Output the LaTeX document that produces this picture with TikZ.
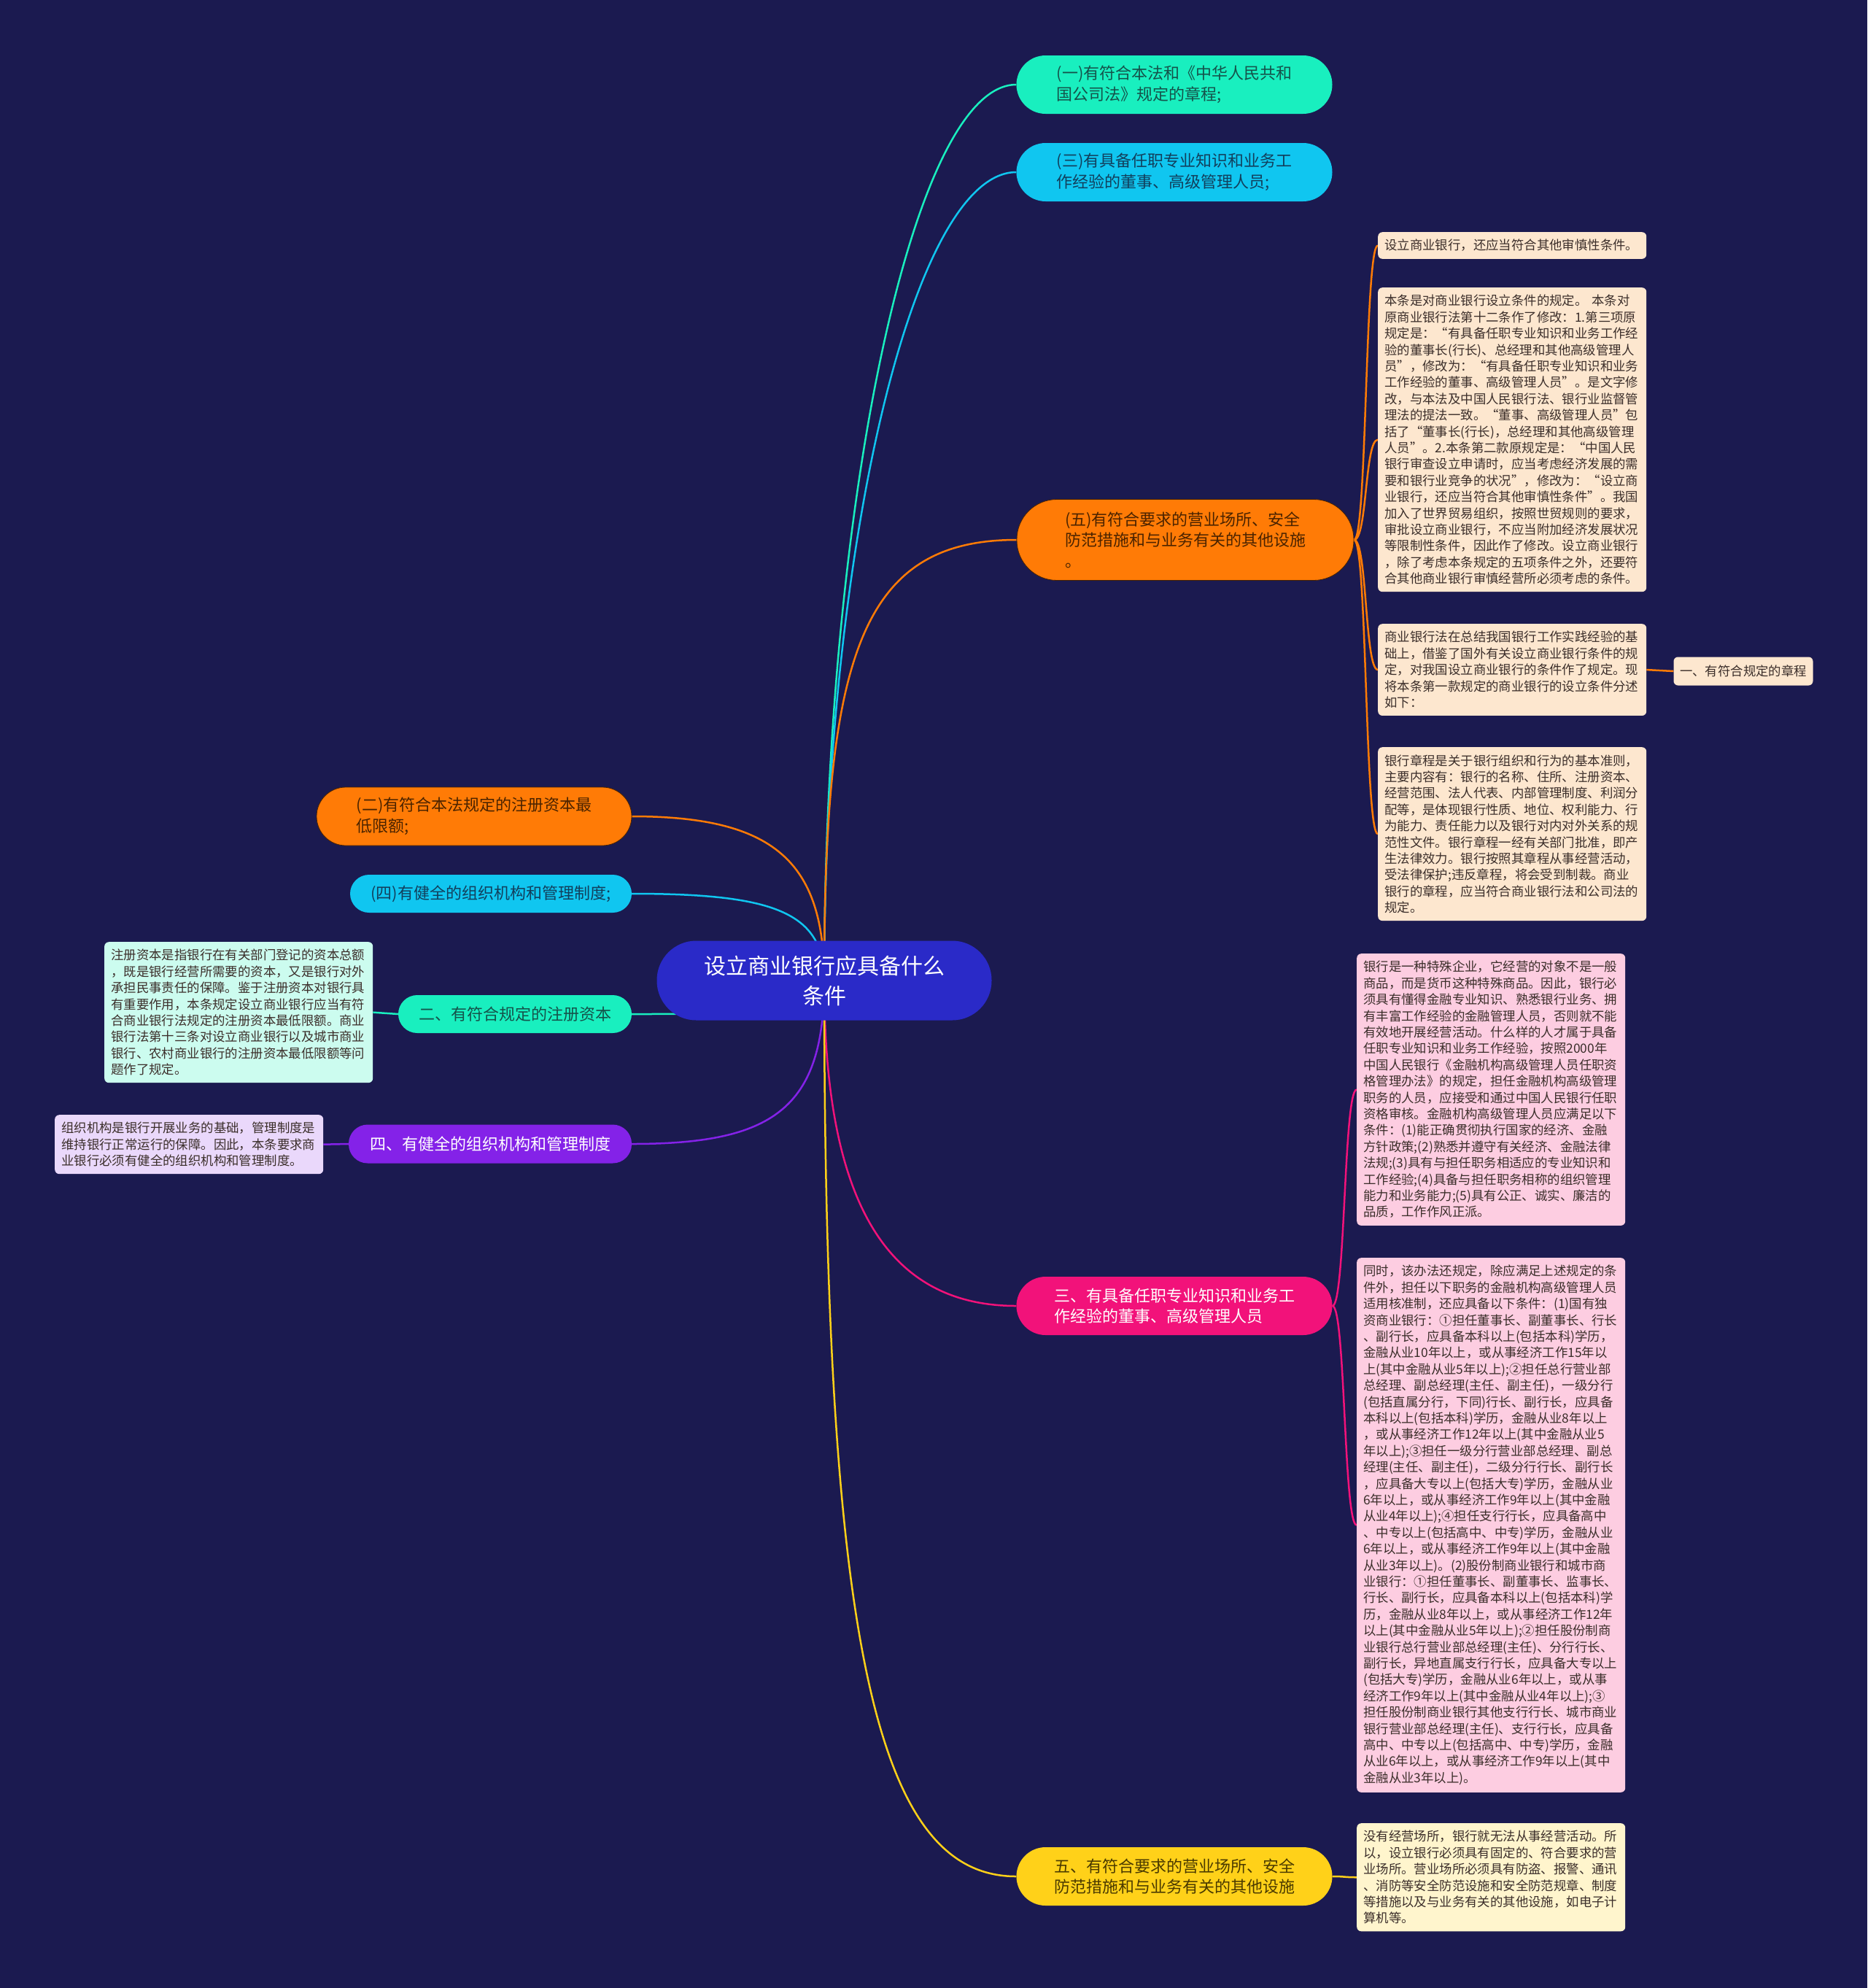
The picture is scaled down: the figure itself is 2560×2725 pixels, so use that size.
\documentclass[tikz,border=0pt]{standalone}
\usepackage{fontspec}
\setmainfont{Noto Sans CJK SC}
\definecolor{bgnavy}{HTML}{1B1A50}
\definecolor{cRoot}{HTML}{2A2AC8}
\definecolor{cMint}{HTML}{19EFBF}
\definecolor{cCyan}{HTML}{10C6F0}
\definecolor{cOrange}{HTML}{FF7B06}
\definecolor{cPink}{HTML}{F2127A}
\definecolor{cYellow}{HTML}{FFD119}
\definecolor{cPurple}{HTML}{8422E8}
\definecolor{tMint}{HTML}{15524A}
\definecolor{tCyan}{HTML}{123F5C}
\definecolor{tOrange}{HTML}{4A2300}
\definecolor{tYellow}{HTML}{4A3A00}
\definecolor{fPeach}{HTML}{FDE7CF}
\definecolor{fPink}{HTML}{FDCDE1}
\definecolor{fYellow}{HTML}{FFF5CD}
\definecolor{fMint}{HTML}{CCFCEF}
\definecolor{fLilac}{HTML}{EAD8FB}
\definecolor{notetext}{HTML}{3B2E2A}
\pgfdeclarelayer{back}
\pgfdeclarelayer{links}
\pgfsetlayers{back,links,main}
\newcommand\rootsize{\fontsize{30}{41}\selectfont}
\newcommand\branchsize{\fontsize{22}{28.5}\selectfont}
\newcommand\notesize{\fontsize{17.4}{22.4}\selectfont}
\tikzset{
  topic/.style={rounded corners=40pt,minimum width=433pt,minimum height=80pt,align=left,inner sep=0pt,font=\branchsize},
  memo/.style={rounded corners=6pt,anchor=north west,text width=350pt,inner xsep=9pt,inner ysep=10pt,align=left,font=\notesize,text=notetext},
  conn/.style={line width=2.5pt},
}
\begin{document}
\begin{tikzpicture}[x=1pt,y=-1pt]
\begin{pgfonlayer}{back}
\fill[bgnavy] (0,0) rectangle (2560,2725);
\end{pgfonlayer}
\useasboundingbox (0,0) rectangle (2560,2725);

% centre
\node[fill=cRoot,text=white,rounded corners=54pt,minimum width=459pt,minimum height=109pt,align=center,font=\rootsize] (root) at (1130,1344) {设立商业银行应具备什么\\条件};

% right side
\node[topic,fill=cMint,text=tMint] (p1) at (1610,116) {(一)有符合本法和《中华人民共和\\国公司法》规定的章程;};
\node[topic,fill=cCyan,text=tCyan] (p3) at (1610,236) {(三)有具备任职专业知识和业务工\\作经验的董事、高级管理人员;};
\node[topic,fill=cOrange,text=tOrange,draw=tOrange,line width=0.8pt,rounded corners=55pt,minimum width=462pt,minimum height=111pt] (p5) at (1625,740) {(五)有符合要求的营业场所、安全\\防范措施和与业务有关的其他设施\\。};
\node[topic,fill=cPink,text=white] (q3) at (1610,1790) {三、有具备任职专业知识和业务工\\作经验的董事、高级管理人员};
\node[topic,fill=cYellow,text=tYellow] (q5) at (1610,2572) {五、有符合要求的营业场所、安全\\防范措施和与业务有关的其他设施};

% left side
\node[topic,fill=cOrange,text=tOrange,draw=tOrange,line width=0.8pt,minimum width=432pt] (p2) at (650,1119) {(二)有符合本法规定的注册资本最\\低限额;};
\node[topic,fill=cCyan,text=tCyan,rounded corners=26pt,minimum width=386pt,minimum height=52pt] (p4) at (673,1225) {(四)有健全的组织机构和管理制度;};
\node[topic,fill=cMint,text=tMint,rounded corners=26pt,minimum width=320pt,minimum height=52pt] (q2) at (706,1390) {二、有符合规定的注册资本};
\node[topic,fill=cPurple,text=white,rounded corners=26pt,minimum width=388pt,minimum height=53pt] (q4) at (672,1568) {四、有健全的组织机构和管理制度};

% notes of (五)
\node[memo,fill=fPeach] (n5a) at (1889,318) {设立商业银行，还应当符合其他审慎性条件。};
\node[memo,fill=fPeach] (n5b) at (1889,394) {本条是对商业银行设立条件的规定。 本条对\\
原商业银行法第十二条作了修改：1.第三项原\\
规定是：“有具备任职专业知识和业务工作经\\
验的董事长(行长)、总经理和其他高级管理人\\
员”，修改为：“有具备任职专业知识和业务\\
工作经验的董事、高级管理人员”。是文字修\\
改，与本法及中国人民银行法、银行业监督管\\
理法的提法一致。“董事、高级管理人员”包\\
括了“董事长(行长)，总经理和其他高级管理\\
人员”。2.本条第二款原规定是：“中国人民\\
银行审查设立申请时，应当考虑经济发展的需\\
要和银行业竞争的状况”，修改为：“设立商\\
业银行，还应当符合其他审慎性条件”。我国\\
加入了世界贸易组织，按照世贸规则的要求，\\
审批设立商业银行，不应当附加经济发展状况\\
等限制性条件，因此作了修改。设立商业银行\\
，除了考虑本条规定的五项条件之外，还要符\\
合其他商业银行审慎经营所必须考虑的条件。};
\node[memo,fill=fPeach] (n5c) at (1889,855) {商业银行法在总结我国银行工作实践经验的基\\
础上，借鉴了国外有关设立商业银行条件的规\\
定，对我国设立商业银行的条件作了规定。现\\
将本条第一款规定的商业银行的设立条件分述\\
如下：};
\node[memo,fill=fPeach] (n5d) at (1889,1024) {银行章程是关于银行组织和行为的基本准则，\\
主要内容有：银行的名称、住所、注册资本、\\
经营范围、法人代表、内部管理制度、利润分\\
配等，是体现银行性质、地位、权利能力、行\\
为能力、责任能力以及银行对内对外关系的规\\
范性文件。银行章程一经有关部门批准，即产\\
生法律效力。银行按照其章程从事经营活动，\\
受法律保护;违反章程，将会受到制裁。商业\\
银行的章程，应当符合商业银行法和公司法的\\
规定。};
\node[fill=fPeach,text=notetext,rounded corners=6pt,minimum width=191pt,minimum height=39pt,inner sep=0pt,font=\notesize] (q1) at (2390,920) {一、有符合规定的章程};

% notes of 三
\node[memo,fill=fPink] (n3a) at (1860,1307) {银行是一种特殊企业，它经营的对象不是一般\\
商品，而是货币这种特殊商品。因此，银行必\\
须具有懂得金融专业知识、熟悉银行业务、拥\\
有丰富工作经验的金融管理人员，否则就不能\\
有效地开展经营活动。什么样的人才属于具备\\
任职专业知识和业务工作经验，按照2000年\\
中国人民银行《金融机构高级管理人员任职资\\
格管理办法》的规定，担任金融机构高级管理\\
职务的人员，应接受和通过中国人民银行任职\\
资格审核。金融机构高级管理人员应满足以下\\
条件：(1)能正确贯彻执行国家的经济、金融\\
方针政策;(2)熟悉并遵守有关经济、金融法律\\
法规;(3)具有与担任职务相适应的专业知识和\\
工作经验;(4)具备与担任职务相称的组织管理\\
能力和业务能力;(5)具有公正、诚实、廉洁的\\
品质，工作作风正派。};
\node[memo,fill=fPink] (n3b) at (1860,1724) {同时，该办法还规定，除应满足上述规定的条\\
件外，担任以下职务的金融机构高级管理人员\\
适用核准制，还应具备以下条件：(1)国有独\\
资商业银行：①担任董事长、副董事长、行长\\
、副行长，应具备本科以上(包括本科)学历，\\
金融从业10年以上，或从事经济工作15年以\\
上(其中金融从业5年以上);②担任总行营业部\\
总经理、副总经理(主任、副主任)，一级分行\\
(包括直属分行，下同)行长、副行长，应具备\\
本科以上(包括本科)学历，金融从业8年以上\\
，或从事经济工作12年以上(其中金融从业5\\
年以上);③担任一级分行营业部总经理、副总\\
经理(主任、副主任)，二级分行行长、副行长\\
，应具备大专以上(包括大专)学历，金融从业\\
6年以上，或从事经济工作9年以上(其中金融\\
从业4年以上);④担任支行行长，应具备高中\\
、中专以上(包括高中、中专)学历，金融从业\\
6年以上，或从事经济工作9年以上(其中金融\\
从业3年以上)。(2)股份制商业银行和城市商\\
业银行：①担任董事长、副董事长、监事长、\\
行长、副行长，应具备本科以上(包括本科)学\\
历，金融从业8年以上，或从事经济工作12年\\
以上(其中金融从业5年以上);②担任股份制商\\
业银行总行营业部总经理(主任)、分行行长、\\
副行长，异地直属支行行长，应具备大专以上\\
(包括大专)学历，金融从业6年以上，或从事\\
经济工作9年以上(其中金融从业4年以上);③\\
担任股份制商业银行其他支行行长、城市商业\\
银行营业部总经理(主任)、支行行长，应具备\\
高中、中专以上(包括高中、中专)学历，金融\\
从业6年以上，或从事经济工作9年以上(其中\\
金融从业3年以上)。};

% note of 五
\node[memo,fill=fYellow] (n5g) at (1860,2499) {没有经营场所，银行就无法从事经营活动。所\\
以，设立银行必须具有固定的、符合要求的营\\
业场所。营业场所必须具有防盗、报警、通讯\\
、消防等安全防范设施和安全防范规章、制度\\
等措施以及与业务有关的其他设施，如电子计\\
算机等。};

% notes on the left
\node[memo,fill=fMint] (n2) at (143,1291) {注册资本是指银行在有关部门登记的资本总额\\
，既是银行经营所需要的资本，又是银行对外\\
承担民事责任的保障。鉴于注册资本对银行具\\
有重要作用，本条规定设立商业银行应当有符\\
合商业银行法规定的注册资本最低限额。商业\\
银行法第十三条对设立商业银行以及城市商业\\
银行、农村商业银行的注册资本最低限额等问\\
题作了规定。};
\node[memo,fill=fLilac] (n4) at (75,1528) {组织机构是银行开展业务的基础，管理制度是\\
维持银行正常运行的保障。因此，本条要求商\\
业银行必须有健全的组织机构和管理制度。};

\begin{pgfonlayer}{links}
\draw[conn,cMint] (root.center) .. controls (1130,700) and (1250,116) .. (p1.west);
\draw[conn,cCyan] (root.center) .. controls (1130,760) and (1250,236) .. (p3.west);
\draw[conn,cOrange] (root.center) .. controls (1130,900) and (1180,740) .. (p5.west);
\draw[conn,cPink] (root.center) .. controls (1130,1620) and (1200,1790) .. (q3.west);
\draw[conn,cYellow] (root.center) .. controls (1130,2250) and (1200,2572) .. (q5.west);
\draw[conn,cOrange] (root.center) .. controls (1130,1180) and (1060,1119) .. (p2.east);
\draw[conn,cCyan] (root.center) .. controls (1130,1250) and (1060,1225) .. (p4.east);
\draw[conn,cMint] (root.center) .. controls (1000,1390) .. (q2.east);
\draw[conn,cPurple] (root.center) .. controls (1130,1520) and (1060,1568) .. (q4.east);
\draw[conn,cOrange] \foreach \k in {a,b,c,d}
  {(p5.east) .. controls +(18,0) and +(-18,0) .. (n5\k.west)};
\draw[conn,cOrange] (n5c.east) -- (q1.west);
\draw[conn,cPink] \foreach \k in {a,b}
  {(q3.east) .. controls +(18,0) and +(-18,0) .. (n3\k.west)};
\draw[conn,cYellow] (q5.east) .. controls +(18,0) and +(-18,0) .. (n5g.west);
\draw[conn,cMint] (n2.east) -- (q2.west);
\draw[conn,cPurple] (n4.east) -- (q4.west);
\end{pgfonlayer}
\end{tikzpicture}
\end{document}
